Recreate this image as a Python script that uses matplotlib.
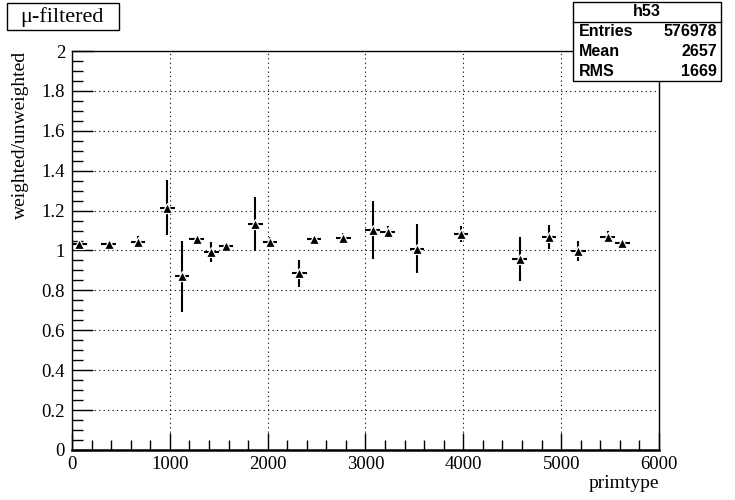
import numpy as np
import matplotlib
matplotlib.use('Agg')
import matplotlib.pyplot as plt
from matplotlib.ticker import MultipleLocator

#%% data (bin width 150)
bin_centers = [75, 375, 675, 975, 1125, 1275, 1425, 1575, 1875, 2025, 2325,
               2475, 2775, 3075, 3225, 3525, 3975, 4575, 4875, 5175, 5475, 5625]
ratio = [1.033, 1.035, 1.045, 1.215, 0.872, 1.059, 0.993, 1.021, 1.133, 1.042, 0.885,
         1.058, 1.061, 1.103, 1.091, 1.010, 1.083, 0.956, 1.066, 0.997, 1.069, 1.036]
ratio_err = [0.012, 0.010, 0.030, 0.138, 0.178, 0.010, 0.050, 0.010, 0.135, 0.028, 0.068,
             0.010, 0.025, 0.145, 0.030, 0.125, 0.040, 0.110, 0.060, 0.050, 0.030, 0.010]
half_width = 75

stats_rows = [('Entries', '576978'), ('Mean', '2657'), ('RMS', '1669')]

#%% plot parameters
plt.rcdefaults()
params = {
    'font.family': ['Liberation Serif', 'DejaVu Serif'],
    'font.size': 13.5,
    'xtick.labelsize': 13.5,
    'ytick.labelsize': 13.5,
    'xtick.direction': 'in',
    'ytick.direction': 'in',
}
plt.rcParams.update(params)

fig = plt.figure(figsize=(7.35, 5.0), dpi=100)
ax = fig.add_axes([72/735, 50/500, 587/735, 399/500])

# error bars, then markers with a thin white rim to leave the ROOT-like gap
ax.errorbar(bin_centers, ratio, yerr=ratio_err, xerr=half_width, fmt='none',
            ecolor='black', elinewidth=1.5, capsize=0, zorder=3)
ax.plot(bin_centers, ratio, '^', color='black', markersize=7.5,
        markeredgecolor='white', markeredgewidth=0.9, zorder=4)

ax.set_xlim(0, 6000)
ax.set_ylim(0, 2)
ax.xaxis.set_major_locator(MultipleLocator(1000))
ax.xaxis.set_minor_locator(MultipleLocator(200))
ax.yaxis.set_major_locator(MultipleLocator(0.2))
ax.yaxis.set_minor_locator(MultipleLocator(0.05))
ax.yaxis.set_major_formatter(plt.FuncFormatter(lambda v, p: ('%g' % round(v, 2))))
ax.tick_params(which='major', length=12, width=1, top=False, right=False, pad=4)
ax.tick_params(which='minor', length=7, width=1, top=False, right=False)
ax.tick_params(axis='y', which='major', length=15, pad=5)
ax.tick_params(axis='y', which='minor', length=8)
ax.grid(which='major', linestyle=(0, (1, 3)), color='black', linewidth=0.8)
for s in ax.spines.values():
    s.set_linewidth(1)
ax.spines['bottom'].set_linewidth(1.8)

ax.set_xlabel('primtype', fontsize=14)
ax.xaxis.set_label_coords(1.0, -0.062)
ax.xaxis.label.set_horizontalalignment('right')
ax.set_ylabel('weighted/unweighted', fontsize=14)
ax.yaxis.set_label_coords(-0.087, 1.0)
ax.yaxis.label.set_verticalalignment('center')
ax.yaxis.label.set_horizontalalignment('right')

# title box
fig.patches.append(plt.Rectangle((7/735, 1 - 30/500), 112/735, 27/500, transform=fig.transFigure,
                                 facecolor='white', edgecolor='black', linewidth=1))
fig.text(62/735, 1 - 17/500, 'μ-filtered', fontsize=16, ha='center', va='center')

# stats box
x0, x1 = 573/735, 721/735
y_top, y_bot = 1 - 2/500, 1 - 81/500
y_line = 1 - 22/500
fig.patches.append(plt.Rectangle((x0, y_bot), x1 - x0, y_top - y_bot, transform=fig.transFigure,
                                 facecolor='white', edgecolor='black', linewidth=1, zorder=5))
fig.add_artist(plt.Line2D([x0, x1], [y_line, y_line], transform=fig.transFigure,
                          color='black', linewidth=1, zorder=6))
fig.text((x0 + x1)/2, (y_top + y_line)/2, 'h53', family='Liberation Sans', weight='bold',
         fontsize=11.5, ha='center', va='center', zorder=7)
row_h = (y_line - y_bot)/3
for i, (k, v) in enumerate(stats_rows):
    yy = y_line - row_h*(i + 0.5)
    fig.text(x0 + 6/735, yy, k, family='Liberation Sans', weight='bold', fontsize=11.5,
             ha='left', va='center', zorder=7)
    fig.text(x1 - 4/735, yy, v, family='Liberation Sans', weight='bold', fontsize=11.5,
             ha='right', va='center', zorder=7)

plt.savefig('out.png', dpi=100)
